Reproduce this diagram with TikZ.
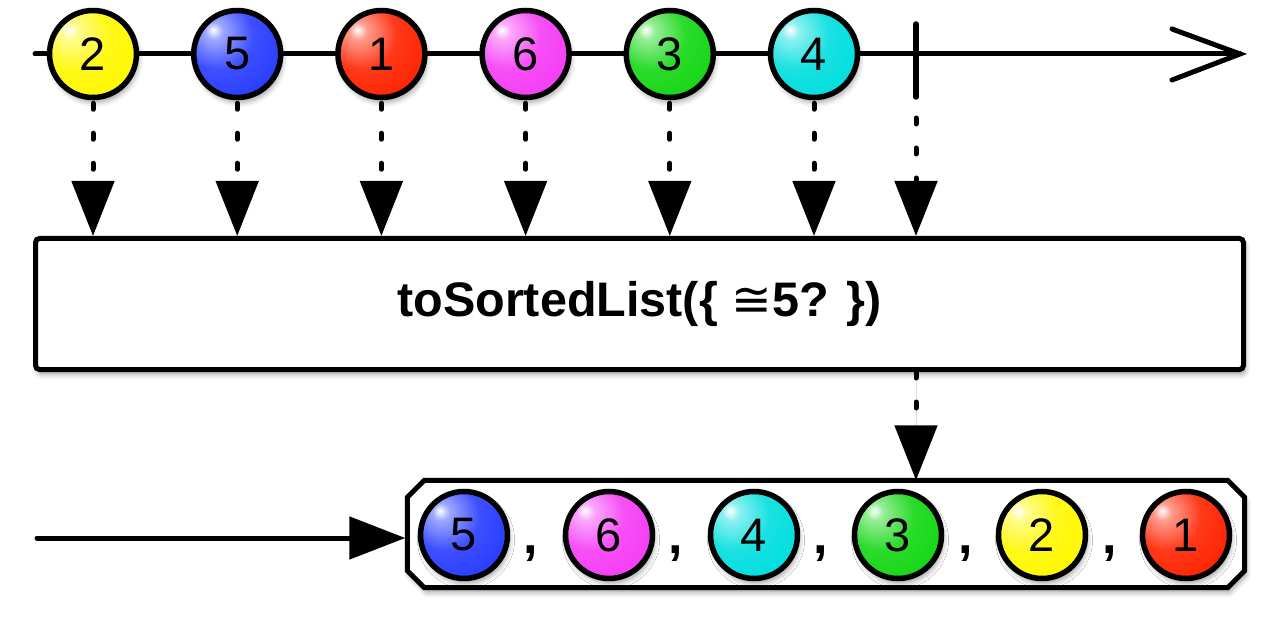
\documentclass[tikz,border=0pt]{standalone}
\usepackage{fontspec}
\setmainfont{Liberation Sans}
\newfontfamily\symfont{DejaVu Sans}
\usetikzlibrary{arrows.meta,shadows.blur}

\definecolor{cyellow}{RGB}{255,248,0}
\definecolor{cblue}{RGB}{40,60,255}
\definecolor{cred}{RGB}{255,35,0}
\definecolor{cmagenta}{RGB}{245,60,245}
\definecolor{cgreen}{RGB}{20,215,20}
\definecolor{ccyan}{RGB}{0,222,222}

\newcommand\declmarble[2]{%
  \pgfdeclareradialshading{marble#1}{\pgfpoint{-14bp}{14bp}}{%
    color(0bp)=(white); color(5bp)=(#2!45!white); color(20bp)=(#2!90!white);
    color(38bp)=(#2); color(58bp)=(#2!82!black); color(70bp)=(#2!62!black);
    color(100bp)=(#2!62!black)}}
\declmarble{yellow}{cyellow}
\declmarble{blue}{cblue}
\declmarble{red}{cred}
\declmarble{magenta}{cmagenta}
\declmarble{green}{cgreen}
\declmarble{cyan}{ccyan}

\tikzset{
  softshadow/.style={blur shadow={shadow xshift=2pt, shadow yshift=-5pt,
    shadow blur radius=5pt, shadow opacity=35}},
  marble/.style={circle, draw=black, line width=5.5pt, minimum size=87pt,
    inner sep=0pt, shading=marble#1,
    font=\fontsize{47}{47}\selectfont, softshadow},
  timeline/.style={line width=5pt, line cap=round},
  dotline/.style={line width=5pt, line cap=round, dash pattern=on 6pt off 24pt,
    -{Triangle[length=55pt,width=42pt]}},
  opbox/.style={draw=black, line width=5pt, rounded corners=4pt, fill=white,
    minimum width=1208pt, minimum height=131pt, inner sep=0pt, softshadow},
  comma/.style={anchor=base, inner sep=0pt, font=\fontsize{52}{52}\selectfont\bfseries},
}

\begin{document}
\begin{tikzpicture}[x=1pt,y=-1pt]
\useasboundingbox (0,0) rectangle (1280,620);

% top timeline
\coordinate (tstart) at (35,54);
\coordinate (tend) at (1240,54);
\draw[timeline] (tstart) -- (tend);
\draw[line width=5pt, line cap=round, line join=miter]
  ([xshift=-68pt,yshift=25pt]tend) -- (tend) -- ([xshift=-68pt,yshift=-26pt]tend);

% completion tick
\coordinate (tickTop) at (916,24);
\coordinate (tickBot) at (916,97);
\draw[line width=5.5pt, line cap=round] (tickTop) -- (tickBot);

% top marbles
\node[marble=yellow]  (m1) at (93,54)    {2};
\node[marble=blue]    (m2) at (237.2,54) {5};
\node[marble=red]     (m3) at (381.4,54) {1};
\node[marble=magenta] (m4) at (525.6,54) {6};
\node[marble=green]   (m5) at (669.8,54) {3};
\node[marble=cyan]    (m6) at (814,54)   {4};

% operator box
\node[opbox] (op) at (639.5,304)
  {\fontsize{48.5}{48.5}\selectfont\bfseries toSortedList(\{ {\symfont\mdseries ≅}5? \})};

% dotted arrows into operator
\foreach \m in {m1,m2,m3,m4,m5,m6}{
  \draw[dotline, dash phase=27pt] (\m.south) -- (\m |- op.north);
}
\draw[dotline, dash phase=9pt] (tickBot) -- (tickBot |- op.north);

% output box
\node[minimum width=837pt, minimum height=107pt, inner sep=0pt] (out) at (826,534) {};
\begin{scope}
\draw[line width=5pt, fill=white, line join=miter, softshadow]
  ([xshift=17pt]out.north west) -- ([xshift=-17pt]out.north east)
  -- ([yshift=-17pt]out.north east) -- ([yshift=17pt]out.south east)
  -- ([xshift=-17pt]out.south east) -- ([xshift=17pt]out.south west)
  -- ([yshift=17pt]out.south west) -- ([yshift=-17pt]out.north west) -- cycle;
\end{scope}

% output arrow
\draw[dotline, fill=black] (op.south -| tickBot) -- (out.north -| tickBot);

% bottom timeline
\coordinate (bstart) at (37,538);
\draw[timeline, fill=black, -{Triangle[length=56pt,width=42pt]}] (bstart) -- ([xshift=-2pt]bstart -| out.west);

% output marbles
\node[marble=blue]    (o1) at (464,535)  {5};
\node[marble=magenta] (o2) at (609,535)  {6};
\node[marble=cyan]    (o3) at (754,535)  {4};
\node[marble=green]   (o4) at (898,535)  {3};
\node[marble=yellow]  (o5) at (1042,535) {2};
\node[marble=red]     (o6) at (1186,535) {1};

% commas
\node[comma] (c1) at (531,553) {,};
\node[comma] (c2) at (676,553) {,};
\node[comma] (c3) at (821,553) {,};
\node[comma] (c4) at (966,553) {,};
\node[comma] (c5) at (1110,553) {,};
\end{tikzpicture}
\end{document}
